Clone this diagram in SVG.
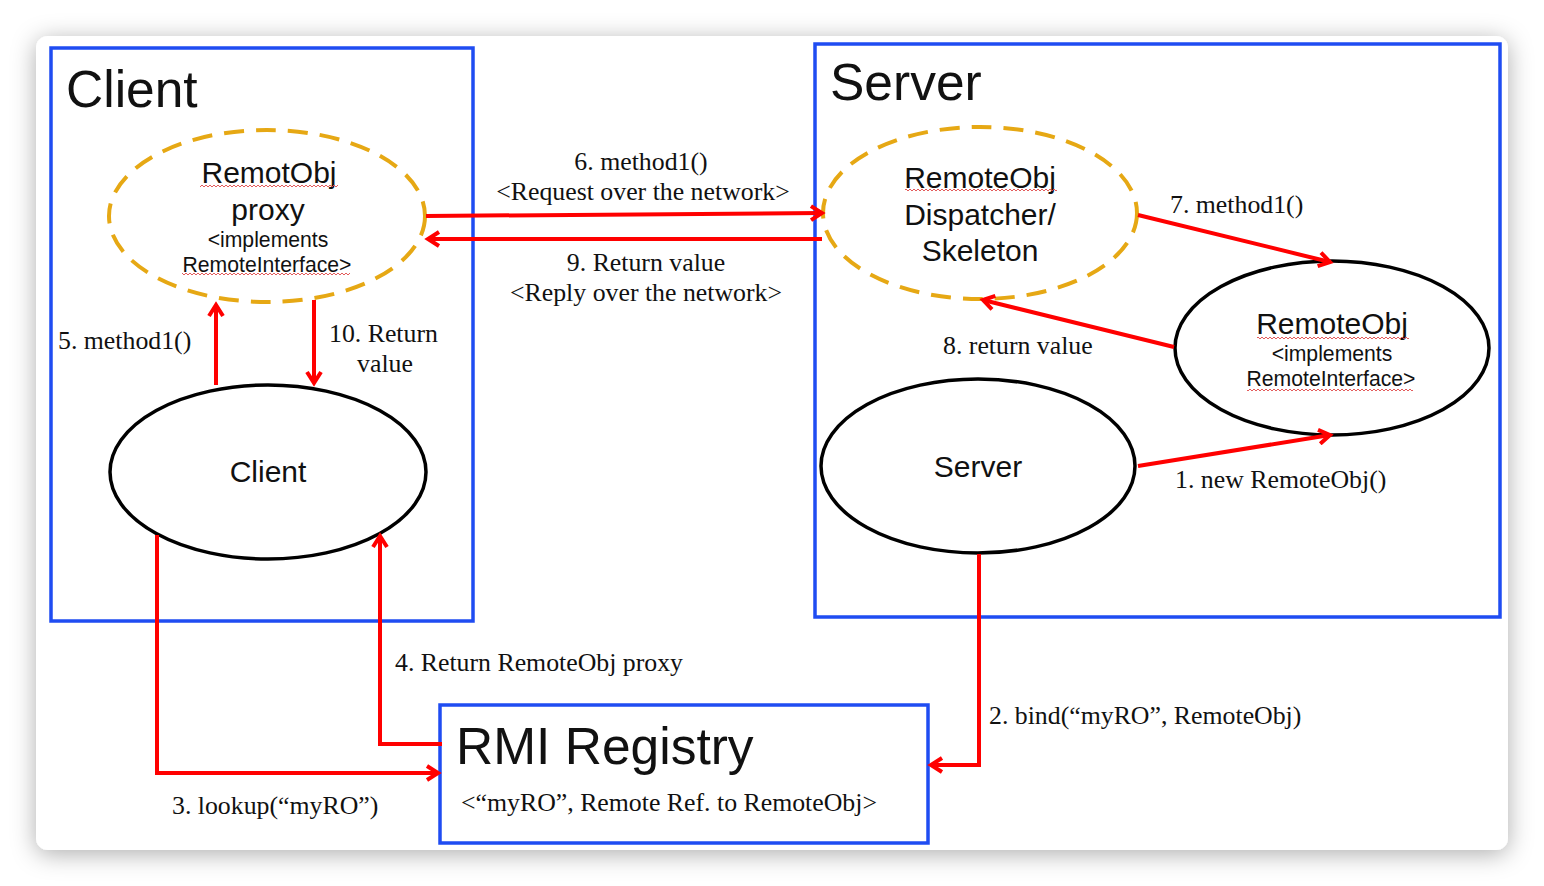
<svg xmlns="http://www.w3.org/2000/svg" width="1544" height="886" viewBox="0 0 1544 886">
<defs>
<filter id="sh" x="-5%" y="-8%" width="110%" height="116%">
<feDropShadow dx="0" dy="4" stdDeviation="12" flood-color="#000" flood-opacity="0.32"/>
</filter>
<marker id="ah" viewBox="0 0 18 18" refX="14" refY="9" markerWidth="18" markerHeight="18" markerUnits="userSpaceOnUse" orient="auto">
<path d="M3,2 L14,9 L3,16" fill="none" stroke="#ff0000" stroke-width="4" stroke-linejoin="miter"/>
</marker>
<pattern id="wave" width="4" height="4" patternUnits="userSpaceOnUse">
<path d="M0,3 L2,1 L4,3" fill="none" stroke="#e04848" stroke-width="0.9"/>
</pattern>
</defs>
<style>
.box{fill:none;stroke:#1f4cf2;stroke-width:3.5}
.dash{fill:#fff;stroke:#e6a814;stroke-width:4;stroke-dasharray:20 12}
.ell{fill:#fff;stroke:#000;stroke-width:3.5}
.con{fill:none;stroke:#ff0000;stroke-width:4}
.sans{font-family:"Liberation Sans",Arial,sans-serif;fill:#111}
.serif{font-family:"Liberation Serif","Times New Roman",serif;fill:#111;font-size:25.8px}
.big{font-size:51.5px}
.mid{font-size:30px}
.sm{font-size:21.2px}
.wv{fill:url(#wave)}
</style>
<rect x="0" y="0" width="1544" height="886" fill="#fff"/>
<rect x="36" y="36" width="1472" height="814" rx="12" fill="#fff" filter="url(#sh)"/>

<g id="client-box">
<rect class="box" x="51" y="48" width="422" height="573"/>
<text class="sans big" x="66" y="107">Client</text>
</g>
<g id="server-box">
<rect class="box" x="815" y="44" width="685" height="573"/>
<text class="sans big" x="830" y="100">Server</text>
</g>
<g id="rmi-registry">
<rect class="box" x="440" y="705" width="488" height="138"/>
<text class="sans big" x="456" y="764">RMI Registry</text>
<text class="serif" x="461" y="811">&lt;“myRO”, Remote Ref. to RemoteObj&gt;</text>
</g>

<g id="proxy">
<ellipse class="dash" cx="267" cy="216" rx="158" ry="86"/>
<text class="sans mid" x="269" y="183" text-anchor="middle">RemotObj</text>
<text class="sans mid" x="268" y="220" text-anchor="middle">proxy</text>
<text class="sans sm" x="268" y="247" text-anchor="middle">&lt;implements</text>
<text class="sans sm" x="267" y="272" text-anchor="middle">RemoteInterface&gt;</text>
<rect class="wv" x="200" y="184" width="138" height="4"/>
<rect class="wv" x="182" y="272" width="168" height="4"/>
</g>
<g id="client">
<ellipse class="ell" cx="268" cy="472" rx="158" ry="87"/>
<text class="sans mid" x="268" y="482" text-anchor="middle">Client</text>
</g>
<g id="skeleton">
<ellipse class="dash" cx="980" cy="213" rx="157" ry="86"/>
<text class="sans mid" x="980" y="188" text-anchor="middle">RemoteObj</text>
<text class="sans mid" x="980" y="225" text-anchor="middle">Dispatcher/</text>
<text class="sans mid" x="980" y="261" text-anchor="middle">Skeleton</text>
<rect class="wv" x="905" y="188" width="152" height="4"/>
</g>
<g id="remoteobj">
<ellipse class="ell" cx="1332" cy="348" rx="157" ry="87"/>
<text class="sans mid" x="1332" y="334" text-anchor="middle">RemoteObj</text>
<text class="sans sm" x="1332" y="361" text-anchor="middle">&lt;implements</text>
<text class="sans sm" x="1331" y="386" text-anchor="middle">RemoteInterface&gt;</text>
<rect class="wv" x="1257" y="336" width="152" height="4"/>
<rect class="wv" x="1247" y="388" width="166" height="4"/>
</g>
<g id="server">
<ellipse class="ell" cx="978" cy="466" rx="157" ry="87"/>
<text class="sans mid" x="978" y="477" text-anchor="middle">Server</text>
</g>

<g id="connectors">
<line class="con" x1="426" y1="216" x2="822" y2="213" marker-end="url(#ah)"/>
<line class="con" x1="822" y1="239" x2="428" y2="239" marker-end="url(#ah)"/>
<line class="con" x1="216" y1="385" x2="216" y2="305" marker-end="url(#ah)"/>
<line class="con" x1="314" y1="300" x2="314" y2="383" marker-end="url(#ah)"/>
<line class="con" x1="1138" y1="215" x2="1330" y2="262" marker-end="url(#ah)"/>
<line class="con" x1="1174" y1="347" x2="983" y2="300" marker-end="url(#ah)"/>
<line class="con" x1="1138" y1="466" x2="1330" y2="435" marker-end="url(#ah)"/>
<polyline class="con" points="979,554 979,765 931,765" marker-end="url(#ah)"/>
<polyline class="con" points="157,535 157,773 438,773" marker-end="url(#ah)"/>
<polyline class="con" points="442,744 380,744 380,536" marker-end="url(#ah)"/>
</g>

<g id="labels">
<text class="serif" x="641" y="170" text-anchor="middle">6. method1()</text>
<text class="serif" x="643" y="200" text-anchor="middle">&lt;Request over the network&gt;</text>
<text class="serif" x="646" y="271" text-anchor="middle">9. Return value</text>
<text class="serif" x="646" y="301" text-anchor="middle">&lt;Reply over the network&gt;</text>
<text class="serif" x="58" y="349">5. method1()</text>
<text class="serif" x="329" y="342">10. Return</text>
<text class="serif" x="385" y="372" text-anchor="middle">value</text>
<text class="serif" x="1170" y="213">7. method1()</text>
<text class="serif" x="943" y="354">8. return value</text>
<text class="serif" x="1175" y="488">1. new RemoteObj()</text>
<text class="serif" x="395" y="671">4. Return RemoteObj proxy</text>
<text class="serif" x="989" y="724">2. bind(“myRO”, RemoteObj)</text>
<text class="serif" x="172" y="814">3. lookup(“myRO”)</text>
</g>
</svg>
